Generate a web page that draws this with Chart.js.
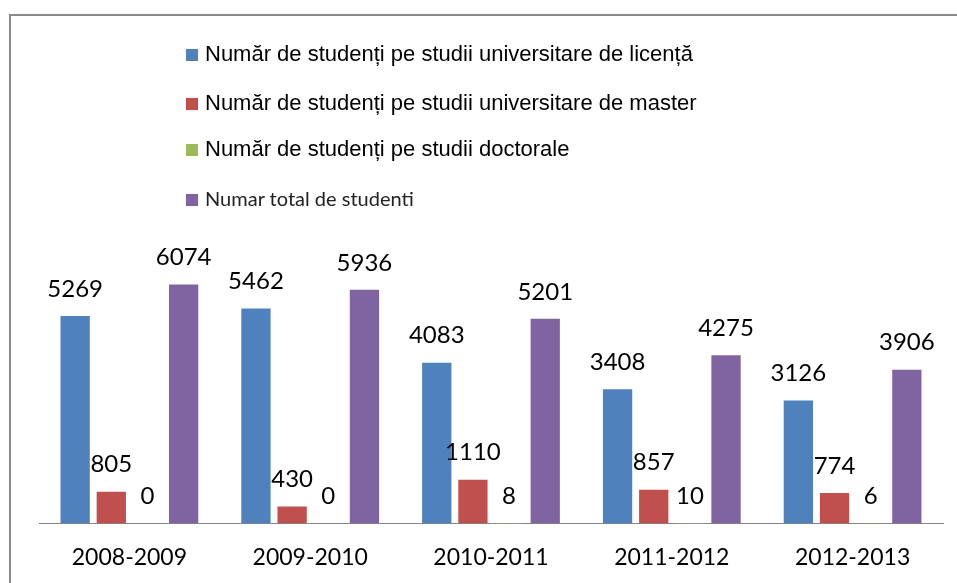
<!DOCTYPE html>
<html>
<head>
<meta charset="utf-8">
<script src="https://cdn.jsdelivr.net/npm/chart.js@4"></script>
<style>
  body { margin: 0; background: #fff; width: 957px; height: 583px; overflow: hidden; position: relative; }
  .frame { position: absolute; left: 9px; top: 14px; width: 1000px; height: 600px; border-left: 2px solid #8a8a8a; border-top: 2px solid #8a8a8a; }
  .wrap { position: absolute; left: 0; top: 0; width: 957px; height: 604px; }
  .legend { position: absolute; left: 186px; top: 0; }
  .row { position: absolute; left: 0; white-space: nowrap; font-family: "Liberation Sans", Arial, sans-serif; font-size: 22px; line-height: 22px; color: #000; }
  .row.small { font-family: Lato, sans-serif; font-size: 20px; line-height: 20px; color: #222; }
  .box { display: inline-block; width: 12px; height: 12px; margin-right: 7px; vertical-align: baseline; }
</style>
</head>
<body>
<div class="frame"></div>
<div class="wrap"><canvas id="myChart" width="957" height="604"></canvas></div>
<div class="legend" id="legend"></div>
<script>
const categories = ["2008-2009", "2009-2010", "2010-2011", "2011-2012", "2012-2013"];
const licenta = [5269, 5462, 4083, 3408, 3126];
const master = [805, 430, 1110, 857, 774];
const doctorat = [0, 0, 8, 10, 6];
const total = [6074, 5936, 5201, 4275, 3906];

const seriesNames = [
  "Număr de studenți pe studii universitare de licență",
  "Număr de studenți pe studii universitare de master",
  "Număr de studenți pe studii doctorale",
  "Numar total de studenti",
];
const colors = ["#4F81BD", "#C0504D", "#9BBB59", "#8064A2"];

// legend, drawn as html
const legendTops = [43, 92, 138, 188];
const legendEl = document.getElementById("legend");
seriesNames.forEach((name, i) => {
  const row = document.createElement("div");
  row.className = i === 3 ? "row small" : "row";
  row.style.top = legendTops[i] + "px";
  row.innerHTML = '<span class="box" style="background:' + colors[i] + '"></span>' + name;
  legendEl.appendChild(row);
});

// numbers above each bar
const valueLabels = {
  id: "valueLabels",
  afterDatasetsDraw(chart) {
    const ctx = chart.ctx;
    ctx.save();
    ctx.font = "24px Lato, sans-serif";
    ctx.fillStyle = "#000";
    ctx.textAlign = "center";
    ctx.textBaseline = "bottom";
    chart.data.datasets.forEach((ds, i) => {
      chart.getDatasetMeta(i).data.forEach((bar, j) => {
        ctx.fillText(String(ds.data[j]), bar.x, bar.y - 15);
      });
    });
    ctx.restore();
  },
};

new Chart(document.getElementById("myChart"), {
  type: "bar",
  data: {
    labels: categories,
    datasets: [
      { label: seriesNames[0], data: licenta, backgroundColor: colors[0] },
      { label: seriesNames[1], data: master, backgroundColor: colors[1] },
      { label: seriesNames[2], data: doctorat, backgroundColor: colors[2] },
      { label: seriesNames[3], data: total, backgroundColor: colors[3] },
    ],
  },
  options: {
    responsive: false,
    animation: false,
    layout: { padding: { left: 39, right: 14, top: 248, bottom: 13 } },
    categoryPercentage: 0.8,
    barPercentage: 0.81,
    plugins: {
      legend: { display: false },
      tooltip: { enabled: false },
    },
    scales: {
      x: {
        grid: { display: false, drawTicks: false },
        border: { display: true, color: "#868686", width: 1 },
        ticks: { color: "#000", padding: 20, font: { family: "Lato, sans-serif", size: 23 } },
      },
      y: {
        display: false,
        min: 0,
        max: 7000,
      },
    },
  },
  plugins: [valueLabels],
});
</script>
</body>
</html>
